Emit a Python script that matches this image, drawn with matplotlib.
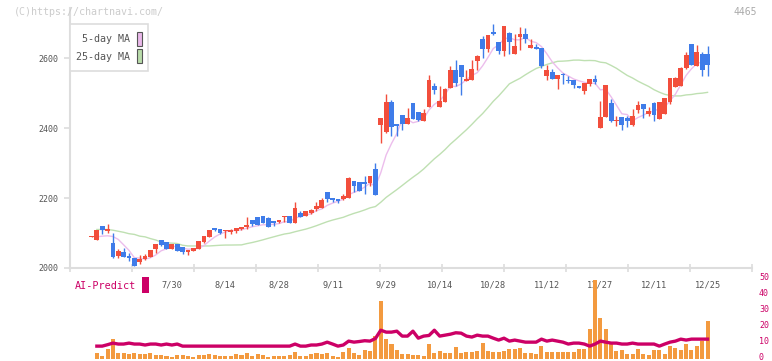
import numpy as np
import pandas as pd
import matplotlib
matplotlib.use("Agg")
import matplotlib.pyplot as plt
from matplotlib.patches import Rectangle
from matplotlib.transforms import ScaledTranslation

# daily candles (index 0 = first day shown, last = 12/25)
opens = [2089, 2081, 2120, 2106, 2071, 2034, 2046, 2034, 2029, 2018,
         2026, 2031, 2054, 2080, 2074, 2054, 2069, 2060, 2046, 2049,
         2054, 2074, 2089, 2114, 2111, 2105, 2103, 2106, 2111, 2117,
         2137, 2146, 2149, 2143, 2134, 2131, 2146, 2149, 2129, 2158,
         2148, 2158, 2170, 2172, 2217, 2200, 2197, 2197, 2200, 2249,
         2246, 2246, 2243, 2283, 2409, 2389, 2474, 2411, 2437, 2411,
         2471, 2446, 2420, 2460, 2520, 2460, 2474, 2514, 2566, 2580,
         2534, 2537, 2591, 2654, 2626, 2674, 2646, 2620, 2671, 2611,
         2660, 2669, 2629, 2631, 2629, 2549, 2560, 2540, 2554, 2537,
         2537, 2520, 2506, 2526, 2540, 2400, 2431, 2471, 2419, 2431,
         2429, 2409, 2451, 2469, 2440, 2471, 2426, 2440, 2474, 2517,
         2520, 2571, 2640, 2577, 2611, 2611]
highs = [2091, 2108, 2121, 2126, 2100, 2053, 2057, 2043, 2029, 2037,
         2040, 2052, 2069, 2080, 2074, 2069, 2069, 2060, 2051, 2057,
         2077, 2091, 2109, 2114, 2111, 2109, 2111, 2114, 2117, 2146,
         2137, 2146, 2149, 2146, 2134, 2137, 2149, 2149, 2189, 2163,
         2163, 2168, 2189, 2200, 2217, 2200, 2197, 2211, 2260, 2249,
         2246, 2263, 2263, 2300, 2430, 2497, 2480, 2411, 2437, 2457,
         2471, 2446, 2454, 2551, 2529, 2520, 2514, 2577, 2594, 2580,
         2566, 2594, 2609, 2663, 2666, 2697, 2646, 2691, 2674, 2669,
         2689, 2686, 2654, 2640, 2629, 2580, 2569, 2551, 2557, 2549,
         2537, 2520, 2529, 2540, 2551, 2477, 2523, 2483, 2434, 2431,
         2434, 2454, 2477, 2469, 2460, 2474, 2474, 2486, 2543, 2546,
         2574, 2617, 2640, 2637, 2617, 2634]
lows = [2089, 2081, 2098, 2099, 2029, 2029, 2030, 2019, 2006, 2012,
        2023, 2031, 2043, 2063, 2054, 2054, 2049, 2040, 2037, 2049,
        2054, 2071, 2089, 2106, 2097, 2086, 2097, 2100, 2109, 2111,
        2120, 2123, 2129, 2117, 2120, 2129, 2131, 2129, 2129, 2147,
        2148, 2153, 2162, 2172, 2189, 2189, 2186, 2194, 2200, 2217,
        2220, 2211, 2234, 2209, 2357, 2386, 2377, 2377, 2394, 2411,
        2426, 2420, 2420, 2460, 2497, 2460, 2474, 2514, 2520, 2494,
        2534, 2537, 2566, 2600, 2617, 2666, 2611, 2606, 2611, 2611,
        2623, 2643, 2629, 2626, 2571, 2537, 2540, 2511, 2526, 2529,
        2514, 2514, 2497, 2520, 2526, 2400, 2431, 2417, 2406, 2394,
        2403, 2406, 2443, 2429, 2434, 2420, 2426, 2440, 2469, 2517,
        2520, 2569, 2580, 2577, 2549, 2549]
closes = [2091, 2108, 2108, 2112, 2031, 2049, 2031, 2029, 2007, 2026,
          2034, 2051, 2069, 2066, 2054, 2069, 2049, 2046, 2051, 2057,
          2077, 2091, 2109, 2109, 2100, 2106, 2109, 2114, 2117, 2123,
          2126, 2123, 2129, 2117, 2129, 2137, 2149, 2129, 2171, 2147,
          2162, 2165, 2176, 2194, 2198, 2194, 2191, 2206, 2257, 2234,
          2220, 2240, 2263, 2209, 2429, 2474, 2403, 2406, 2411, 2429,
          2426, 2423, 2443, 2537, 2509, 2477, 2511, 2566, 2529, 2546,
          2540, 2569, 2606, 2626, 2666, 2669, 2620, 2691, 2646, 2634,
          2669, 2654, 2637, 2626, 2577, 2566, 2540, 2551, 2551, 2535,
          2523, 2514, 2529, 2540, 2531, 2431, 2523, 2420, 2420, 2409,
          2420, 2434, 2466, 2454, 2449, 2437, 2474, 2486, 2543, 2543,
          2571, 2609, 2580, 2617, 2566, 2580]

# moving averages before enough history is on the chart
ma5_head = [np.nan, 2089, 2091, 2092]
ma25_head = [np.nan, 2110, 2110, 2110, 2108, 2105, 2102, 2098, 2096, 2091,
             2089, 2084, 2080, 2074, 2072, 2071, 2070, 2065, 2063, 2063,
             2063, 2063, 2063, 2064]

# lower panel
volumes = [np.nan, 3.75, 1.9, 6.25, 12.5, 3.75, 3.75, 3.1, 3.75, 3.1,
           3.1, 3.75, 2.5, 2.5, 1.9, 1.25, 2.5, 2.5, 1.9, 1.25,
           2.5, 2.5, 3.1, 2.5, 1.9, 1.9, 1.9, 3.1, 2.5, 3.75,
           1.9, 3.1, 2.5, 1.25, 1.9, 1.9, 1.9, 2.5, 4.4, 1.9,
           1.9, 3.1, 3.75, 3.1, 3.75, 1.9, 1.25, 4.4, 6.9, 3.75,
           2.5, 5.6, 5.0, 14.4, 36.25, 12.5, 9.4, 5.6, 3.1, 3.1,
           2.5, 2.5, 1.9, 9.4, 3.75, 5.0, 3.75, 3.75, 7.5, 3.75,
           4.4, 4.4, 5.0, 10.0, 5.0, 4.4, 4.4, 5.0, 6.25, 6.25,
           6.9, 3.75, 3.75, 3.1, 8.1, 4.4, 4.4, 4.4, 4.4, 4.4,
           4.4, 6.25, 6.25, 18.75, 50.0, 25.6, 18.75, 10.0, 5.0, 5.6,
           3.1, 3.1, 6.25, 3.1, 2.5, 5.6, 5.6, 3.1, 8.1, 6.9,
           5.6, 9.4, 5.6, 8.1, 11.25, 23.75]
ai_predict = [np.nan, 8.1, 8.1, 9.0, 10.0, 9.4, 9.4, 10.0, 9.4, 9.4,
              8.8, 9.4, 9.4, 8.8, 9.4, 8.8, 9.4, 8.1, 8.1, 8.1,
              8.1, 8.1, 8.1, 8.1, 8.1, 8.1, 8.1, 8.1, 8.1, 8.1,
              8.1, 8.1, 8.1, 8.1, 8.1, 8.1, 8.1, 8.1, 9.4, 8.1,
              8.1, 8.8, 8.8, 9.4, 10.6, 9.4, 8.1, 8.8, 11.25, 10.6,
              11.0, 11.5, 11.25, 12.9, 18.1, 16.9, 16.9, 17.5, 14.4, 14.4,
              17.5, 13.1, 14.4, 14.8, 18.1, 14.4, 15.0, 15.6, 16.5, 16.25,
              14.4, 13.8, 15.0, 14.4, 14.4, 13.1, 11.9, 13.1, 11.25, 11.9,
              11.25, 10.6, 10.6, 10.6, 12.5, 11.25, 11.9, 11.25, 10.6, 9.4,
              10.0, 10.0, 9.4, 8.1, 9.4, 11.25, 10.6, 10.0, 10.0, 9.4,
              9.4, 10.0, 9.4, 9.4, 9.4, 9.4, 8.1, 9.4, 10.6, 11.25,
              12.5, 11.9, 12.5, 12.5, 12.5, 12.5]

date_labels = ['7/30', '8/14', '8/28', '9/11', '9/29', '10/14',
               '10/28', '11/12', '11/27', '12/11', '12/25']
label_days = [15, 25, 35, 45, 55, 65, 75, 85, 95, 105, 115]

RED = '#f24e3c'
BLUE = '#3f7ce9'
GRID = '#dddddd'
MAGENTA = '#cc0066'

plt.rcParams['font.family'] = ['DejaVu Sans Mono']

W, H = 772, 361
fig = plt.figure(figsize=(W / 100, H / 100), dpi=100)

n = len(closes)
idx = np.arange(n)
o = np.array(opens, float)
h = np.array(highs, float)
l = np.array(lows, float)
c = np.array(closes, float)

cs = pd.Series(c)
ma5 = cs.rolling(5).mean().to_numpy()
ma5[:len(ma5_head)] = ma5_head
ma25 = cs.rolling(25).mean().to_numpy()
ma25[:len(ma25_head)] = ma25_head

# pixel layout of the reference
x0, x1 = 70, 752
step = 5.357
first_x = 91.5
xlim = ((x0 - first_x) / step, (x1 - first_x) / step)

# --- price panel
top_px, bot_px = 8, 268
ax = fig.add_axes([x0 / W, 1 - bot_px / H, (x1 - x0) / W, (bot_px - top_px) / H])
ax.set_xlim(*xlim)
ax.set_ylim(2000, 2000 + (bot_px - top_px) / 0.35)

ax.plot(idx, ma25, color='#bfe0b2', lw=1.0, zorder=2)
ax.plot(idx, ma5, color='#ecbdec', lw=1.0, zorder=2)

up = c >= o
colors = np.where(up, RED, BLUE)
ax.vlines(idx, l, h, colors=colors, lw=1.0, zorder=3)
body_lo = np.minimum(o, c)
body_h = np.maximum(np.abs(c - o), 2.5)
ax.bar(idx, body_h, bottom=body_lo, width=0.9, color=colors, lw=0, zorder=4)

for s in ['top', 'right']:
    ax.spines[s].set_visible(False)
for s in ['left', 'bottom']:
    ax.spines[s].set_color(GRID)
    ax.spines[s].set_linewidth(1.5)

ax.set_yticks([2000, 2200, 2400, 2600])
ax.tick_params(axis='y', colors=GRID, labelcolor='#555555', length=4,
               width=1.2, labelsize=6, pad=4)
ax.set_xticks(np.linspace(xlim[0], xlim[1], 12))
ax.set_xticklabels([])
ax.tick_params(axis='x', which='major', direction='inout', length=6,
               width=1.2, colors=GRID)
ax.set_xticks(label_days, date_labels, minor=True)
ax.tick_params(axis='x', which='minor', length=0, labelsize=6.2,
               labelcolor='#555555', pad=9)

# --- AI-Predict panel
vb_px, vt_px = 359, 274
ax2 = fig.add_axes([x0 / W, 1 - vb_px / H, (x1 - x0) / W, (vb_px - vt_px) / H])
ax2.set_xlim(*xlim)
ax2.set_ylim(0, (vb_px - vt_px) / 1.59)
ax2.bar(idx, volumes, width=0.75, color='#f39a3f', lw=0, zorder=2)
ax2.plot(idx, ai_predict, color=MAGENTA, lw=2.4, zorder=3)
for s in ax2.spines.values():
    s.set_visible(False)
ax2.set_xticks([])
ax2.yaxis.tick_right()
ax2.set_yticks([0, 10, 20, 30, 40, 50])
ax2.tick_params(axis='y', length=0, labelsize=6, labelcolor=MAGENTA, pad=5)
ax2.patch.set_alpha(0)
# nudge the right-hand labels up a little so "0" stays inside the image
lift = ScaledTranslation(0, 2.5 / 100, fig.dpi_scale_trans)
for lab in ax2.get_yticklabels():
    lab.set_transform(lab.get_transform() + lift)

# --- legend box
fig.patches.append(Rectangle((x0 / W, 1 - 71 / H), 78 / W, 47 / H,
                             transform=fig.transFigure, facecolor='white',
                             edgecolor=GRID, lw=1.2))
fig.patches.append(Rectangle((137 / W, 1 - 46 / H), 5 / W, 14 / H,
                             transform=fig.transFigure, facecolor='#eab8ea',
                             edgecolor='#555555', lw=0.8))
fig.patches.append(Rectangle((137 / W, 1 - 63 / H), 5 / W, 14 / H,
                             transform=fig.transFigure, facecolor='#b9dcaa',
                             edgecolor='#555555', lw=0.8))
fig.text(130 / W, 1 - 39 / H, '5-day MA', ha='right', va='center',
         fontsize=7.2, color='#555555')
fig.text(130 / W, 1 - 57 / H, '25-day MA', ha='right', va='center',
         fontsize=7.2, color='#555555')

fig.text(14 / W, 1 - 12 / H, '(C)https://chartnavi.com/', ha='left',
         va='center', fontsize=7.2, color='#cccccc')
fig.text(757 / W, 1 - 12 / H, '4465', ha='right', va='center',
         fontsize=7, color='#aaaaaa')

fig.text(75 / W, 1 - 286 / H, 'AI-Predict', ha='left', va='center',
         fontsize=7.3, color=MAGENTA)
fig.patches.append(Rectangle((142 / W, 1 - 293 / H), 7 / W, 16 / H,
                             transform=fig.transFigure, facecolor=MAGENTA,
                             lw=0))

fig.savefig('out.png', dpi=100)
